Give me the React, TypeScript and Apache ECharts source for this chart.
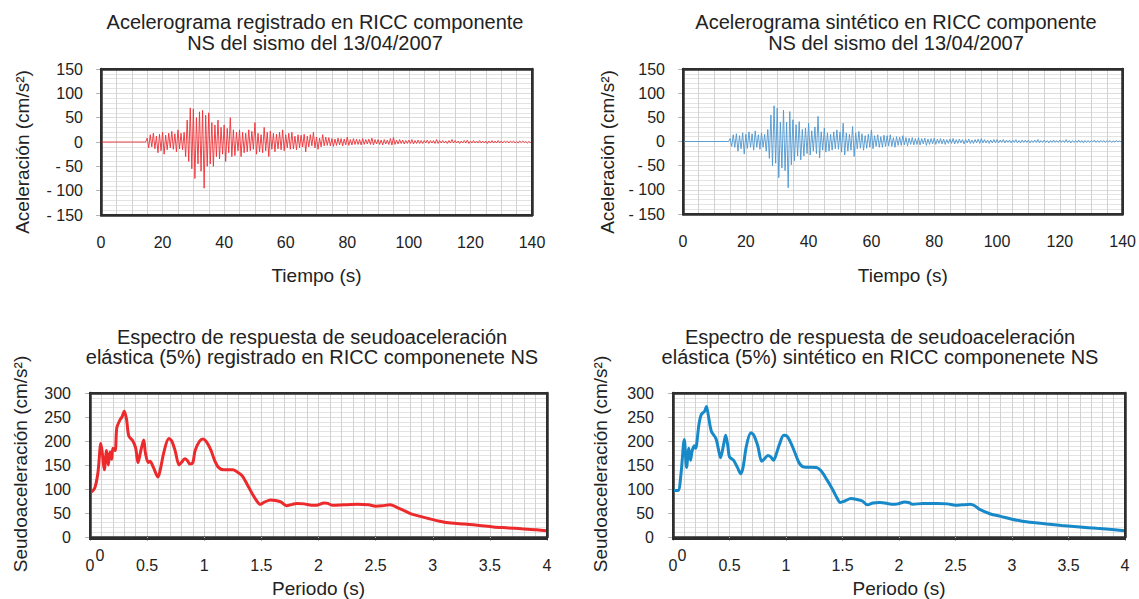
import React, { useEffect, useRef } from "react";
import * as echarts from "echarts";

// ---------- Accelerograms (cm/s²), sampled every accStep seconds from accStart ----------
const accStart = 14.5;
const accStep = 0.5;
const accRegistrado = [
  0, 8, -12, 15, -10, 18, -14, 12, -22, 16,
  -18, 20, -25, 14, -16, 18, -12, 22, -15, 17,
  -20, 25, -14, 18, -16, 20, -30, 45, -40, 70,
  -55, 68, -75, 50, -45, 62, -60, 65, -95, 55,
  -50, 60, -45, 40, -50, 35, -30, 45, -35, 30,
  -25, 35, -40, 28, -22, 50, -30, 25, -28, 20,
  -18, 25, -30, 20, -22, 18, -20, 25, -18, 22,
  -15, 40, -25, 18, -20, 15, -22, 30, -18, 20,
  -30, 22, -15, 18, -20, 16, -14, 20, -16, 25,
  -18, 15, -12, 18, -15, 20, -14, 12, -16, 15,
  -12, 14, -10, 16, -20, 12, -10, 15, -8, 20,
  -12, 10, -15, 8, -10, 15, -8, 10, -7, 9,
  -8, 7, -9, 6, -7, 8, -6, 7, -8, 6,
  -6, 10, -7, 5, -6, 7, -5, 6, -5, 5,
  -6, 7, -5, 5, -4, 6, -5, 8, -6, 5,
  -4, 5, -5, 4, -6, 5, -4, 4, -5, 7,
  -6, 9, -5, 4, -4, 5, -3, 4, -4, 3,
  -3, 4, -3, 5, -4, 3, -3, 4, -3, 3,
  -3, 3, -2, 4, -3, 3, -2, 3, -3, 5,
  -3, 3, -2, 3, -2, 2, -3, 3, -2, 5,
  -2, 3, -2, 2, -3, 2, -2, 3, -2, 4,
  -3, 2, -2, 3, -2, 2, -2, 3, -2, 2,
  -2, 2, -3, 2, -2, 3, -2, 2, -2, 3,
  -2, 2, -2, 2, -1, 2, -2, 2, -1, 2,
  -2, 1, -2, 2, -1, 2, -1, 1, -2, 1,
  -1, 0,
];
const accSintetico = [
  0, 6, -10, 14, -12, 16, -20, 12, -15, 18,
  -26, 15, -14, 20, -12, 16, -18, 22, -12, 14,
  -16, 18, -12, 15, -20, 25, -35, 55, -50, 74,
  -45, 69, -75, 40, -55, 65, -60, 40, -96, 62,
  -48, 45, -40, 35, -30, 41, -38, 25, -30, 28,
  -25, 38, -28, 22, -20, 30, -25, 52, -34, 20,
  -18, 28, -22, 18, -20, 15, -18, 20, -15, 24,
  -16, 20, -22, 38, -28, 18, -20, 15, -18, 31,
  -31, 18, -15, 21, -14, 16, -18, 12, -14, 15,
  -12, 24, -15, 12, -10, 14, -12, 10, -12, 13,
  -10, 12, -9, 14, -10, 8, -12, 10, -8, 9,
  -8, 12, -7, 8, -9, 7, -6, 8, -7, 6,
  -6, 8, -7, 6, -5, 7, -8, 5, -6, 6,
  -5, 7, -6, 5, -4, 6, -5, 5, -6, 4,
  -4, 5, -4, 6, -5, 4, -4, 5, -3, 4,
  -5, 4, -3, 5, -4, 3, -4, 4, -3, 5,
  -4, 6, -3, 4, -3, 3, -4, 3, -3, 4,
  -3, 4, -3, 3, -2, 4, -3, 3, -2, 3,
  -3, 3, -2, 4, -3, 2, -3, 3, -2, 3,
  -2, 3, -3, 2, -2, 3, -2, 4, -3, 2,
  -2, 3, -2, 2, -3, 2, -2, 3, -2, 2,
  -2, 3, -2, 2, -2, 4, -2, 2, -3, 2,
  -2, 2, -2, 3, -2, 2, -3, 2, -2, 2,
  -2, 2, -1, 3, -2, 2, -2, 2, -1, 2,
  -2, 2, -1, 2, -2, 1, -1, 2, -1, 1,
  -1, 0,
];

// ---------- Pseudo-acceleration spectra (cm/s²) vs period (s) ----------
const specRegPeriods = [
  0, 0.04, 0.07, 0.095, 0.11, 0.125, 0.145, 0.16, 0.175, 0.19, 0.2, 0.22, 0.235, 0.265, 0.28, 0.3,
  0.32, 0.34, 0.375, 0.4, 0.42, 0.445, 0.47, 0.485, 0.51, 0.525, 0.555, 0.595, 0.615, 0.65, 0.69,
  0.715, 0.745, 0.78, 0.8, 0.83, 0.85, 0.875, 0.9, 0.92, 0.96, 0.99, 1.02, 1.06, 1.09, 1.125, 1.17,
  1.25, 1.28, 1.33, 1.375, 1.42, 1.46, 1.49, 1.53, 1.58, 1.625, 1.67, 1.72, 1.77, 1.81, 1.875, 1.94,
  1.98, 2.05, 2.08, 2.125, 2.22, 2.34, 2.44, 2.5, 2.56, 2.62, 2.66, 2.7, 2.75, 2.81, 2.89, 2.97,
  3.06, 3.16, 3.28, 3.41, 3.53, 3.66, 3.78, 3.91, 4.0,
];
const specRegValues = [
  92, 101, 135, 195, 170, 140, 180, 150, 177, 162, 185, 180, 228, 245, 250, 262,
  245, 210, 200, 185, 155, 180, 202, 175, 155, 158, 145, 125, 140, 180, 205,
  200, 180, 150, 155, 163, 160, 152, 155, 180, 200, 204, 198, 180, 160, 145, 140,
  140, 137, 128, 110, 90, 75, 68, 73, 77, 76, 73, 65, 68, 70, 69, 66,
  66, 71, 70, 66, 67, 68, 67, 64, 65, 67, 65, 60, 55, 48, 43, 38,
  33, 29, 27, 24, 21, 19, 17, 15, 13,
];
const specSinPeriods = [
  0, 0.044, 0.07, 0.1, 0.12, 0.14, 0.155, 0.17, 0.19, 0.2, 0.23, 0.25, 0.28, 0.296, 0.315, 0.34,
  0.38, 0.4, 0.42, 0.45, 0.466, 0.485, 0.5, 0.535, 0.57, 0.6, 0.62, 0.65, 0.69, 0.715, 0.75,
  0.785, 0.81, 0.84, 0.865, 0.89, 0.91, 0.945, 0.98, 1.01, 1.045, 1.08, 1.115, 1.155, 1.27, 1.31,
  1.36, 1.41, 1.45, 1.48, 1.52, 1.575, 1.63, 1.675, 1.72, 1.77, 1.83, 1.9, 1.94, 1.99, 2.05,
  2.085, 2.12, 2.21, 2.34, 2.43, 2.5, 2.56, 2.63, 2.67, 2.71, 2.81, 2.9, 3.0, 3.09, 3.19, 3.31,
  3.44, 3.6, 3.75, 3.91, 4.0,
];
const specSinValues = [
  97, 97, 130, 203, 145, 185, 160, 180, 190, 185, 235, 255, 262, 272, 250, 220,
  205, 185, 165, 195, 212, 190, 167, 160, 145, 132, 145, 190, 217, 212, 190,
  158, 163, 170, 167, 160, 170, 195, 212, 210, 195, 175, 155, 146, 145, 138,
  120, 100, 82, 72, 75, 80, 78, 75, 67, 71, 72, 70, 68, 69, 73,
  72, 68, 70, 70, 69, 66, 67, 68, 65, 58, 48, 43, 37, 33, 30, 27,
  24, 21, 18, 15, 13,
];

// ---------- Texts ----------
const titles = [
  "Acelerograma registrado en RICC componente\nNS del sismo del 13/04/2007",
  "Acelerograma sintético en RICC componente\nNS del sismo del 13/04/2007",
  "Espectro de respuesta de seudoaceleración\nelástica (5%) registrado en RICC componenete NS",
  "Espectro de respuesta de seudoaceleración\nelástica (5%) sintético en RICC componenete NS",
];
const accYName = "Aceleración (cm/s²)";
const specYName = "Seudoaceleración (cm/s²)";
const accXName = "Tiempo (s)";
const specXName = "Periodo (s)";

const FONT = "'Liberation Sans', Arial, sans-serif";
const RED = "#ec2a2c";
const RED_ACC = "#ee3136";
const BLUE = "#1889c8";
const BLUE_ACC = "#4f97d0";
const FRAME_COLOR = "#2e2e2e";
const FRAME = { show: true, onZero: false, lineStyle: { color: FRAME_COLOR, width: 2.5 } };

// plot rectangles [left, top, width, height]
const boxes = [
  [101, 69, 431, 146],
  [683, 69, 440, 145],
  [90, 393, 457, 146],
  [673, 393, 452, 146],
];
const xMax = [140, 140, 4, 4];
const yMin = [-150, -150, 0, 0];
const yMax = [150, 150, 300, 300];

function accData(vals: number[]) {
  return [[0, 0]].concat(vals.map((v, i) => [accStart + i * accStep, v]));
}
function pairs(xs: number[], ys: number[]) {
  return xs.map((x, i) => [x, ys[i]]);
}

function yFmt(v: number) {
  return v < 0 ? "- " + Math.abs(v) : String(v);
}

function xAxis(gridIndex: number, interval: number, minorSplit: number, name: string, nameGap: number, labelMargin: number, showTick: boolean) {
  return {
    type: "value",
    gridIndex,
    min: 0,
    max: xMax[gridIndex],
    interval,
    name,
    nameLocation: "middle",
    nameGap,
    nameTextStyle: { fontFamily: FONT, fontSize: 19, color: "#222" },
    axisLine: { ...FRAME },
    axisTick: { show: showTick, length: 4, lineStyle: { color: "#b5b5b5" } },
    axisLabel: { fontFamily: FONT, fontSize: 16, color: "#222", margin: labelMargin },
    splitLine: { show: true, showMinLine: false, showMaxLine: false, lineStyle: { color: "#d2d2d2", width: 1 } },
    minorTick: { show: false, splitNumber: minorSplit },
    minorSplitLine: { show: true, lineStyle: { color: "#d2d2d2", width: 1 } },
  };
}
function yAxis(gridIndex: number, interval: number, minorSplit: number, labelMargin: number) {
  return {
    type: "value",
    gridIndex,
    min: yMin[gridIndex],
    max: yMax[gridIndex],
    interval,
    axisLine: { ...FRAME },
    axisTick: { show: true, length: 5, lineStyle: { color: "#b5b5b5" } },
    axisLabel: { fontFamily: FONT, fontSize: 16, color: "#222", margin: labelMargin, formatter: yFmt },
    splitLine: { show: true, showMinLine: false, showMaxLine: false, lineStyle: { color: "#dcdcdc", width: 1 } },
    minorTick: { show: false, splitNumber: minorSplit },
    minorSplitLine: { show: true, lineStyle: { color: "#e4e4e4", width: 1 } },
  };
}
// top / right axes used only to close the frame
function frameX(gridIndex: number) {
  return {
    type: "value", gridIndex, position: "top", min: 0, max: xMax[gridIndex],
    axisLine: { ...FRAME }, axisTick: { show: false }, axisLabel: { show: false }, splitLine: { show: false }, z: 10,
  };
}
function frameY(gridIndex: number) {
  return {
    type: "value", gridIndex, position: "right", min: yMin[gridIndex], max: yMax[gridIndex],
    axisLine: { ...FRAME }, axisTick: { show: false }, axisLabel: { show: false }, splitLine: { show: false }, z: 10,
  };
}

export default function App() {
  const ref = useRef<HTMLDivElement>(null);
  useEffect(() => {
    document.body.style.margin = "0";
    const chart = echarts.init(ref.current!, null, { renderer: "svg" });
    const titleStyle = { fontFamily: FONT, fontSize: 20, fontWeight: "normal", color: "#222", lineHeight: 21 };
    const textStyle = (text: string, size: number) => ({ text, font: `${size}px ${FONT}`, fill: "#222", align: "center", verticalAlign: "middle" });
    chart.setOption({
      animation: false,
      backgroundColor: "#fff",
      title: [
        { text: titles[0], left: 315, top: 11, textAlign: "center", padding: 0, textStyle: titleStyle },
        { text: titles[1], left: 896, top: 11, textAlign: "center", padding: 0, textStyle: titleStyle },
        { text: titles[2], left: 312, top: 327, textAlign: "center", padding: 0, textStyle: { ...titleStyle, lineHeight: 20 } },
        { text: titles[3], left: 880, top: 327, textAlign: "center", padding: 0, textStyle: { ...titleStyle, lineHeight: 20 } },
      ],
      grid: boxes.map((b) => ({ left: b[0], top: b[1], width: b[2], height: b[3] })),
      xAxis: [
        xAxis(0, 20, 4, accXName, 51, 19, false),
        xAxis(1, 20, 4, accXName, 52, 19, false),
        xAxis(2, 0.5, 5, specXName, 42, 20, true),
        xAxis(3, 0.5, 5, specXName, 42, 20, true),
        frameX(0), frameX(1), frameX(2), frameX(3),
      ],
      yAxis: [
        yAxis(0, 50, 5, 18),
        yAxis(1, 50, 5, 18),
        yAxis(2, 50, 5, 19),
        yAxis(3, 50, 5, 19),
        frameY(0), frameY(1), frameY(2), frameY(3),
      ],
      series: [
        { type: "line", xAxisIndex: 0, yAxisIndex: 0, data: accData(accRegistrado), showSymbol: false, lineStyle: { color: RED_ACC, width: 1, opacity: 0.9 }, itemStyle: { color: RED_ACC } },
        { type: "line", xAxisIndex: 1, yAxisIndex: 1, data: accData(accSintetico), showSymbol: false, lineStyle: { color: BLUE_ACC, width: 1, opacity: 0.9 }, itemStyle: { color: BLUE_ACC } },
        { type: "line", xAxisIndex: 2, yAxisIndex: 2, data: pairs(specRegPeriods, specRegValues), showSymbol: false, smooth: 0.3, lineStyle: { color: RED, width: 3 }, itemStyle: { color: RED } },
        { type: "line", xAxisIndex: 3, yAxisIndex: 3, data: pairs(specSinPeriods, specSinValues), showSymbol: false, smooth: 0.3, lineStyle: { color: BLUE, width: 3 }, itemStyle: { color: BLUE } },
      ],
      graphic: {
        elements: [
          { type: "text", x: 22, y: 152, rotation: Math.PI / 2, style: textStyle(accYName, 19) },
          { type: "text", x: 607, y: 152, rotation: Math.PI / 2, style: textStyle(accYName, 19) },
          { type: "text", x: 20, y: 464, rotation: Math.PI / 2, style: textStyle(specYName, 19) },
          { type: "text", x: 600, y: 464, rotation: Math.PI / 2, style: textStyle(specYName, 19) },
          { type: "text", x: 100, y: 555, style: textStyle("0", 16) },
          { type: "text", x: 682, y: 555, style: textStyle("0", 16) },
        ],
      },
    });
    return () => chart.dispose();
  }, []);
  return (
    <div style={{ position: "relative", width: 1139, height: 599 }}>
      <div ref={ref} style={{ width: 1139, height: 599 }} />
      {boxes.map((b, i) => (
        <div
          key={i}
          style={{
            position: "absolute",
            left: b[0] - 1.25,
            top: b[1] - 1.25,
            width: b[2] + 2.5,
            height: b[3] + 2.5,
            boxSizing: "border-box",
            border: `2.5px solid ${FRAME_COLOR}`,
            pointerEvents: "none",
          }}
        />
      ))}
    </div>
  );
}
